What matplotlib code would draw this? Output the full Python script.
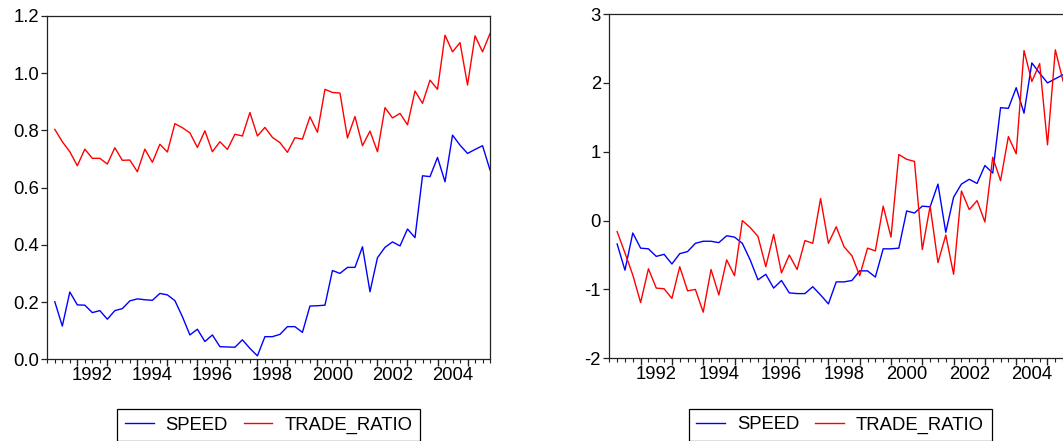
import matplotlib.pyplot as plt
import matplotlib.transforms as mtransforms
import pandas as pd

plt.rcParams['font.family'] = ['Liberation Sans', 'DejaVu Sans']

# quarterly sample 1991Q2 - 2005Q4
periods = pd.period_range('1991Q2', periods=59, freq='Q')
quarters = periods.year + (periods.quarter - 1) / 4.0

# levels
speed = [0.201, 0.116, 0.235, 0.190, 0.189, 0.163, 0.170, 0.140, 0.170, 0.177,
         0.204, 0.211, 0.208, 0.206, 0.230, 0.225, 0.205, 0.149, 0.085, 0.105,
         0.062, 0.085, 0.044, 0.043, 0.042, 0.068, 0.038, 0.012, 0.079, 0.079,
         0.087, 0.114, 0.114, 0.094, 0.186, 0.187, 0.189, 0.310, 0.300, 0.321,
         0.321, 0.393, 0.236, 0.355, 0.391, 0.410, 0.396, 0.455, 0.425, 0.641,
         0.638, 0.705, 0.620, 0.783, 0.748, 0.719, 0.733, 0.746, 0.661]
trade_ratio = [0.803, 0.760, 0.725, 0.676, 0.734, 0.702, 0.702, 0.682, 0.739, 0.695,
               0.696, 0.655, 0.734, 0.688, 0.751, 0.724, 0.823, 0.809, 0.791, 0.740,
               0.798, 0.725, 0.760, 0.733, 0.786, 0.780, 0.862, 0.780, 0.810, 0.775,
               0.757, 0.723, 0.774, 0.769, 0.847, 0.793, 0.943, 0.932, 0.930, 0.773,
               0.848, 0.746, 0.797, 0.725, 0.879, 0.843, 0.859, 0.819, 0.937, 0.894,
               0.975, 0.943, 1.132, 1.074, 1.106, 0.958, 1.130, 1.074, 1.138]

# standardized series
speed_std = [-0.34, -0.72, -0.18, -0.40, -0.41, -0.52, -0.49, -0.63, -0.48, -0.45,
             -0.33, -0.30, -0.30, -0.32, -0.22, -0.24, -0.33, -0.57, -0.86, -0.78,
             -0.98, -0.87, -1.05, -1.06, -1.06, -0.96, -1.08, -1.21, -0.89, -0.89,
             -0.87, -0.73, -0.73, -0.82, -0.41, -0.41, -0.40, 0.14, 0.11, 0.21,
             0.20, 0.53, -0.17, 0.34, 0.53, 0.60, 0.54, 0.80, 0.69, 1.64,
             1.63, 1.93, 1.56, 2.29, 2.14, 2.00, 2.06, 2.12, 1.73]
trade_ratio_std = [-0.16, -0.47, -0.79, -1.19, -0.70, -0.98, -0.99, -1.13, -0.67, -1.02,
                   -1.00, -1.33, -0.71, -1.08, -0.57, -0.80, 0.00, -0.10, -0.23, -0.67,
                   -0.20, -0.76, -0.50, -0.71, -0.29, -0.33, 0.32, -0.33, -0.09, -0.38,
                   -0.51, -0.80, -0.40, -0.44, 0.21, -0.24, 0.96, 0.89, 0.86, -0.42,
                   0.21, -0.61, -0.21, -0.78, 0.43, 0.16, 0.29, -0.02, 0.92, 0.58,
                   1.22, 0.97, 2.47, 2.02, 2.28, 1.10, 2.48, 2.02, 2.52]

years = list(range(1992, 2006))
year_labels = [str(y) if y % 2 == 0 else '' for y in years]
minor_ticks = [1991 + q / 4.0 for q in range(0, 60)]

FS = 13.3
XMIN, XMAX = 1991.0, 2005.75


def draw_panel(fig, rect, s1, s2, ylim, yticks, ylabels, legend_y):
    ax = fig.add_axes(rect)
    ax.plot(quarters, s1, color='blue', lw=1.0, label='SPEED')
    ax.plot(quarters, s2, color='red', lw=1.0, label='TRADE_RATIO')
    ax.set_xlim(XMIN, XMAX)
    ax.set_ylim(*ylim)

    ax.set_yticks(yticks)
    ax.set_yticklabels(ylabels)
    ax.set_xticks(years)
    ax.set_xticklabels(year_labels)
    ax.set_xticks(minor_ticks, minor=True)

    for sp in ax.spines.values():
        sp.set_linewidth(0.9)
        sp.set_color('#222222')

    ax.tick_params(axis='x', which='major', direction='out', length=5,
                   width=1.0, pad=0.5, labelsize=FS, color='#222222')
    ax.tick_params(axis='x', which='minor', direction='out', length=3,
                   width=0.8, color='#222222')
    ax.tick_params(axis='y', direction='out', length=4.5, width=0.9,
                   pad=1.5, labelsize=FS, color='#222222')

    # year labels sit in the middle of each year
    width_in = fig.get_figwidth() * rect[2]
    dx = width_in * 0.5 / (XMAX - XMIN)
    shift = mtransforms.ScaledTranslation(dx, 0, fig.dpi_scale_trans)
    for lbl in ax.get_xticklabels():
        lbl.set_transform(lbl.get_transform() + shift)

    leg = ax.legend(loc='upper center', bbox_to_anchor=(0.5, legend_y), ncol=2,
                    fontsize=FS, frameon=True, fancybox=False, framealpha=1,
                    edgecolor='black', borderaxespad=0, borderpad=0.42,
                    handlelength=1.55, handletextpad=0.65, columnspacing=0.85)
    leg.get_frame().set_linewidth(0.9)
    return ax


fig = plt.figure(figsize=(10.63, 4.41), dpi=100)

draw_panel(fig, [0.0445, 0.1853, 0.4165, 0.779], speed, trade_ratio,
           (0.0, 1.2), [0.0, 0.2, 0.4, 0.6, 0.8, 1.0, 1.2],
           ['0.0', '0.2', '0.4', '0.6', '0.8', '1.0', '1.2'], -0.144)

draw_panel(fig, [0.5732, 0.1875, 0.4343, 0.7807], speed_std, trade_ratio_std,
           (-2, 3), [-2, -1, 0, 1, 2, 3],
           ['-2', '-1', '0', '1', '2', '3'], -0.146)

fig.savefig('out.png', dpi=100)
